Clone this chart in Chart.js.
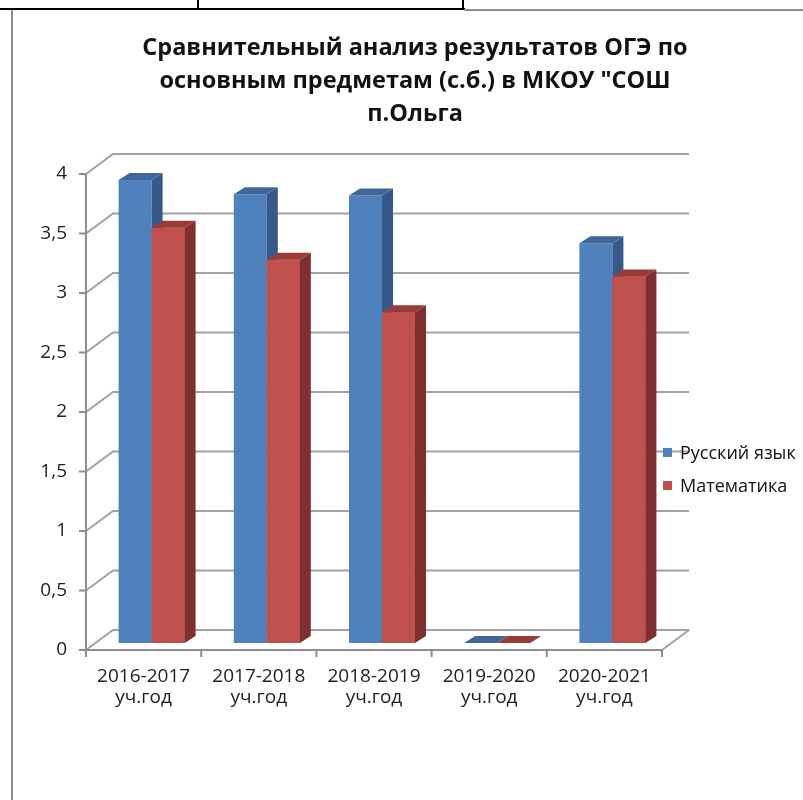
<!DOCTYPE html>
<html lang="ru">
<head>
<meta charset="utf-8">
<title>Сравнительный анализ результатов ОГЭ</title>
<script src="https://cdn.jsdelivr.net/npm/chart.js@4.4.1/dist/chart.umd.min.js"></script>
<style>
    html, body { margin: 0; padding: 0; background: #fff; }
    body { width: 803px; height: 800px; position: relative; overflow: hidden; font-family: "Open Sans", sans-serif; }
    #wrap { position: absolute; left: 0; top: 0; width: 803px; height: 800px; }
    .line { position: absolute; }
    #title {
        position: absolute; left: 115px; width: 600px; top: 30px;
        text-align: center; font-weight: bold; font-size: 23.5px; line-height: 33px; color: #111;
    }
    #legend { position: absolute; left: 663px; top: 439px; font-size: 18px; color: #111; }
    #legend div { height: 33px; line-height: 26px; white-space: nowrap; }
    #legend span.box { display: inline-block; width: 9px; height: 9px; margin-right: 8px; vertical-align: 2px; }
</style>
</head>
<body>

<!-- table borders above the chart -->
<div class="line" style="left:0;top:8px;width:465px;height:2px;background:#000"></div>
<div class="line" style="left:197px;top:0;width:2px;height:10px;background:#000"></div>
<div class="line" style="left:462px;top:0;width:2px;height:10px;background:#000"></div>
<div class="line" style="left:464px;top:9px;width:339px;height:2px;background:#8e8e8e"></div>
<div class="line" style="left:11px;top:10px;width:2px;height:790px;background:#8e8e8e"></div>

<div id="wrap"><canvas id="ogeChart"></canvas></div>

<div id="title">Сравнительный анализ результатов ОГЭ по<br>основным предметам (с.б.) в МКОУ "СОШ<br>п.Ольга</div>

<div id="legend">
    <div><span class="box" style="background:#4f81bd"></span>Русский язык</div>
    <div><span class="box" style="background:#c0504d"></span>Математика</div>
</div>

<script>
/* ============================================
   DATA
   ============================================ */

const years = [
    ["2016-2017", "уч.год"],
    ["2017-2018", "уч.год"],
    ["2018-2019", "уч.год"],
    ["2019-2020", "уч.год"],
    ["2020-2021", "уч.год"]
];
const russianScores = [3.89, 3.77, 3.76, 0, 3.36];
const mathScores = [3.49, 3.22, 2.78, 0, 3.08];
const seriesNames = ["Русский язык", "Математика"];


/* ============================================
   3D LOOK (walls, grid, bar sides)
   ============================================ */

const WALL_DX = 27, WALL_DY = -20;   // back wall offset from front axis
const BAR_DX = 8, BAR_DY = -7;       // bars sit a bit inside the box
const DEPTH_DX = 11, DEPTH_DY = -7;  // bar depth

const sideColors = ["#37598a", "#7f302e"];
const topColors = ["#3f6898", "#983c3a"];

function drawFaces(ctx, meta, i) {
    meta.data.forEach(bar => {
        const { x, y, base, width } = bar.getProps(["x", "y", "base", "width"], true);
        const x1 = x - width / 2, x2 = x + width / 2;
        // side
        ctx.fillStyle = sideColors[i];
        ctx.beginPath();
        ctx.moveTo(x2, y);
        ctx.lineTo(x2 + DEPTH_DX, y + DEPTH_DY);
        ctx.lineTo(x2 + DEPTH_DX, base + DEPTH_DY);
        ctx.lineTo(x2, base);
        ctx.closePath();
        ctx.fill();
        // top
        ctx.fillStyle = topColors[i];
        ctx.beginPath();
        ctx.moveTo(x1, y);
        ctx.lineTo(x1 + DEPTH_DX, y + DEPTH_DY);
        ctx.lineTo(x2 + DEPTH_DX, y + DEPTH_DY);
        ctx.lineTo(x2, y);
        ctx.closePath();
        ctx.fill();
    });
}

const box3d = {
    id: "box3d",
    beforeDatasetsDraw(chart) {
        const { ctx, chartArea: a, scales } = chart;
        const y = scales.y;
        ctx.save();
        ctx.lineCap = "butt";

        // back wall grid + side wall diagonals
        y.ticks.forEach(t => {
            const py = y.getPixelForValue(t.value);
            ctx.strokeStyle = "#a2a2a2";
            ctx.lineWidth = 2;
            ctx.beginPath();
            ctx.moveTo(a.left, py);
            ctx.lineTo(a.left + WALL_DX, py + WALL_DY);
            ctx.lineTo(a.right + WALL_DX, py + WALL_DY);
            ctx.stroke();
            // tick mark
            ctx.strokeStyle = "#8e8e8e";
            ctx.beginPath();
            ctx.moveTo(a.left - 7, py);
            ctx.lineTo(a.left, py);
            ctx.stroke();
        });

        ctx.strokeStyle = "#a2a2a2";
        ctx.lineWidth = 2;
        ctx.beginPath();
        ctx.moveTo(a.right, a.bottom);
        ctx.lineTo(a.right + WALL_DX, a.bottom + WALL_DY);
        ctx.stroke();

        // front axes
        ctx.strokeStyle = "#8e8e8e";
        ctx.beginPath();
        ctx.moveTo(a.left, a.top);
        ctx.lineTo(a.left, a.bottom);
        ctx.lineTo(a.right, a.bottom);
        ctx.stroke();

        const n = chart.data.labels.length;
        const step = (a.right - a.left) / n;
        ctx.beginPath();
        for (let i = 0; i <= n; i++) {
            const px = a.left + i * step;
            ctx.moveTo(px, a.bottom);
            ctx.lineTo(px, a.bottom + 7);
        }
        ctx.stroke();
        ctx.restore();

        ctx.save();
        ctx.translate(BAR_DX, BAR_DY);
    },
    afterDatasetsDraw(chart) {
        const ctx = chart.ctx;
        const blue = chart.getDatasetMeta(0);
        const red = chart.getDatasetMeta(1);
        // blue sides first, then red bars in front of them
        drawFaces(ctx, blue, 0);
        red.data.forEach(bar => bar.draw(ctx));
        drawFaces(ctx, red, 1);
        ctx.restore();
    }
};


/* ============================================
   CHART
   ============================================ */

document.addEventListener("DOMContentLoaded", function () {

    const ctx = document.getElementById("ogeChart");

    new Chart(ctx, {
        type: "bar",
        data: {
            labels: years,
            datasets: [{
                label: seriesNames[0],
                data: russianScores,
                backgroundColor: "#4f81bd",
                borderWidth: 0,
                clip: false
            }, {
                label: seriesNames[1],
                data: mathScores,
                backgroundColor: "#c0504d",
                borderWidth: 0,
                clip: false
            }]
        },
        options: {
            responsive: true,
            maintainAspectRatio: false,
            animation: false,
            events: [],
            layout: {
                padding: { left: 10, top: 174, right: 141, bottom: 90 }
            },
            datasets: {
                bar: { categoryPercentage: 0.573, barPercentage: 1 }
            },
            plugins: {
                legend: { display: false },
                tooltip: { enabled: false }
            },
            scales: {
                x: {
                    grid: { display: false, drawTicks: false },
                    border: { display: false },
                    ticks: {
                        padding: 16,
                        maxRotation: 0,
                        autoSkip: false,
                        color: "#222",
                        font: { family: "Open Sans", size: 19, lineHeight: 1.1 }
                    },
                    afterFit(scale) { scale.height = 60; }
                },
                y: {
                    min: 0,
                    max: 4,
                    grid: { display: false, drawTicks: false },
                    border: { display: false },
                    ticks: {
                        stepSize: 0.5,
                        padding: 19,
                        color: "#222",
                        font: { family: "Open Sans", size: 19 },
                        callback: v => String(v).replace(".", ",")
                    },
                    afterFit(scale) { scale.width = 76; }
                }
            }
        },
        plugins: [box3d]
    });
});
</script>
</body>
</html>
